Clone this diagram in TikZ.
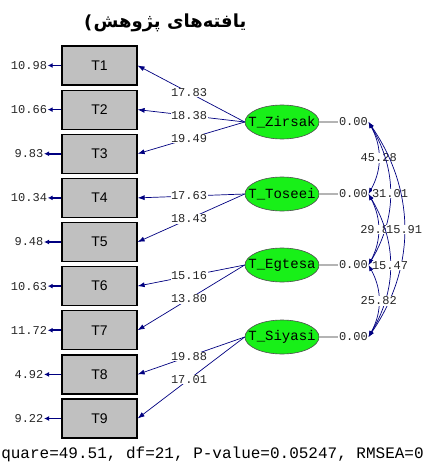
\documentclass[tikz,border=0pt]{standalone}
\usepackage{fontspec}
\TeXXeTstate=1
\newfontfamily\monofont{Liberation Mono}
\newfontfamily\sansfont{Liberation Sans}
\newfontfamily\parenfont{DejaVu Sans}
\newfontfamily\arabicfont[Script=Arabic]{DejaVu Sans}
\usetikzlibrary{shapes.geometric,arrows.meta}
\definecolor{boxgray}{HTML}{C0C0C0}
\definecolor{lvgreen}{HTML}{18F018}
\definecolor{arrowblue}{HTML}{000080}
\definecolor{stubgray}{HTML}{B4B4B4}
\tikzset{
  obsbox/.style={draw=black, line width=1.2pt, fill=boxgray, minimum width=75pt, minimum height=39pt, inner sep=0pt, font=\sansfont\fontsize{14}{16}\selectfont},
  latent/.style={ellipse, draw=black!70, line width=0.6pt, fill=lvgreen, minimum width=74pt, minimum height=34pt, inner sep=0pt, font=\monofont\fontsize{14}{16}\selectfont},
  num/.style={font=\monofont\fontsize{12}{14}\selectfont, text=black!85, fill=white, inner sep=0.5pt},
  errnum/.style={font=\monofont\fontsize{12}{14}\selectfont, text=black!85, inner sep=0.5pt},
  varnum/.style={font=\monofont\fontsize{12}{14}\selectfont, text=black!85, inner sep=0.5pt},
  loadarrow/.style={draw=arrowblue, line width=0.7pt, -{Latex[length=7pt,width=5pt]}},
  errarrow/.style={draw=arrowblue, line width=1.6pt, -{Latex[length=5pt,width=5pt]}},
  covarrow/.style={draw=arrowblue, line width=0.7pt, {Latex[length=6pt,width=4.5pt]}-{Latex[length=6pt,width=4.5pt]}},
  stub/.style={draw=stubgray, line width=1.2pt}
}
\begin{document}
\begin{tikzpicture}[x=1pt,y=-1pt]
\useasboundingbox (0,0) rectangle (425,463);
% title (closing parenthesis of right-to-left text, shown at its left end)
\node[font=\arabicfont\bfseries\fontsize{18}{21}\selectfont, inner sep=0pt] (title) at (170,23) {\beginR یافته‌های پژوهش\endR};
\node[font=\parenfont\bfseries\fontsize{18}{21}\selectfont, inner sep=0pt, anchor=east] (paren) at ([xshift=-1pt]title.west) {(};
% observed boxes
\foreach \i/\y in {1/65.5,2/109.6,3/153.75,4/197.9,5/242,6/286.1,7/330.25,8/374.4,9/418.5}{
  \node[obsbox] (T\i) at (99.5,\y) {T\i};
}
% error variances
\foreach \i/\v in {1/10.98,2/10.66,3/9.83,4/10.34,5/9.48,6/10.63,7/11.72,8/4.92,9/9.22}{
  \node[errnum] (e\i) at (29,0 |- T\i) {\v};
  \draw[errarrow] (T\i.west) -- (e\i);
}
% latent variables
\node[latent] (Z) at (282,122) {\makebox[0pt]{T\_Zirsak}};
\node[latent] (To) at (282,194) {\makebox[0pt]{T\_Toseei}};
\node[latent] (E) at (282,265) {\makebox[0pt]{T\_Egtesa}};
\node[latent] (S) at (282,337) {\makebox[0pt]{T\_Siyasi}};
% variances
\foreach \f/\k in {Z/1,To/2,E/3,S/4}{
  \node[varnum, anchor=west] (v\k) at ([xshift=19pt]\f.east) {0.00};
  \draw[stub] (\f.east) -- (v\k.west);
}
% loadings
\draw[loadarrow] (Z.west) -- node[num, pos=0.52] {17.83} (T1.east);
\draw[loadarrow] (Z.west) -- node[num, pos=0.52] {18.38} (T2.east);
\draw[loadarrow] (Z.west) -- node[num, pos=0.52] {19.49} (T3.east);
\draw[loadarrow] (To.west) -- node[num, pos=0.52] {17.63} (T4.east);
\draw[loadarrow] (To.west) -- node[num, pos=0.52] {18.43} (T5.east);
\draw[loadarrow] (E.west) -- node[num, pos=0.52] {15.16} (T6.east);
\draw[loadarrow] (E.west) -- node[num, pos=0.52] {13.80} (T7.east);
\draw[loadarrow] (S.west) -- node[num, pos=0.52] {19.88} (T8.east);
\draw[loadarrow] (S.west) -- node[num, pos=0.52] {17.01} (T9.east);
% covariances
\draw[covarrow] (v1.east) to[bend left=29] node[num, midway] {45.28} (v2.east);
\draw[covarrow] (v1.east) to[bend left=31] node[num, midway] {31.01} (v3.east);
\draw[covarrow] (v2.east) to[bend left=28] node[num, midway] {29.81} (v3.east);
\draw[covarrow] (v1.east) to[bend left=34.5] node[num, midway] {15.91} (v4.east);
\draw[covarrow] (v2.east) to[bend left=31] node[num, midway] {15.47} (v4.east);
\draw[covarrow] (v3.east) to[bend left=29] node[num, midway] {25.82} (v4.east);
% fit statistics
\node[font=\monofont\fontsize{16}{18}\selectfont, inner sep=0pt] (fit) at (212.5,454) {quare=49.51, df=21, P-value=0.05247, RMSEA=0};
\end{tikzpicture}
\end{document}
